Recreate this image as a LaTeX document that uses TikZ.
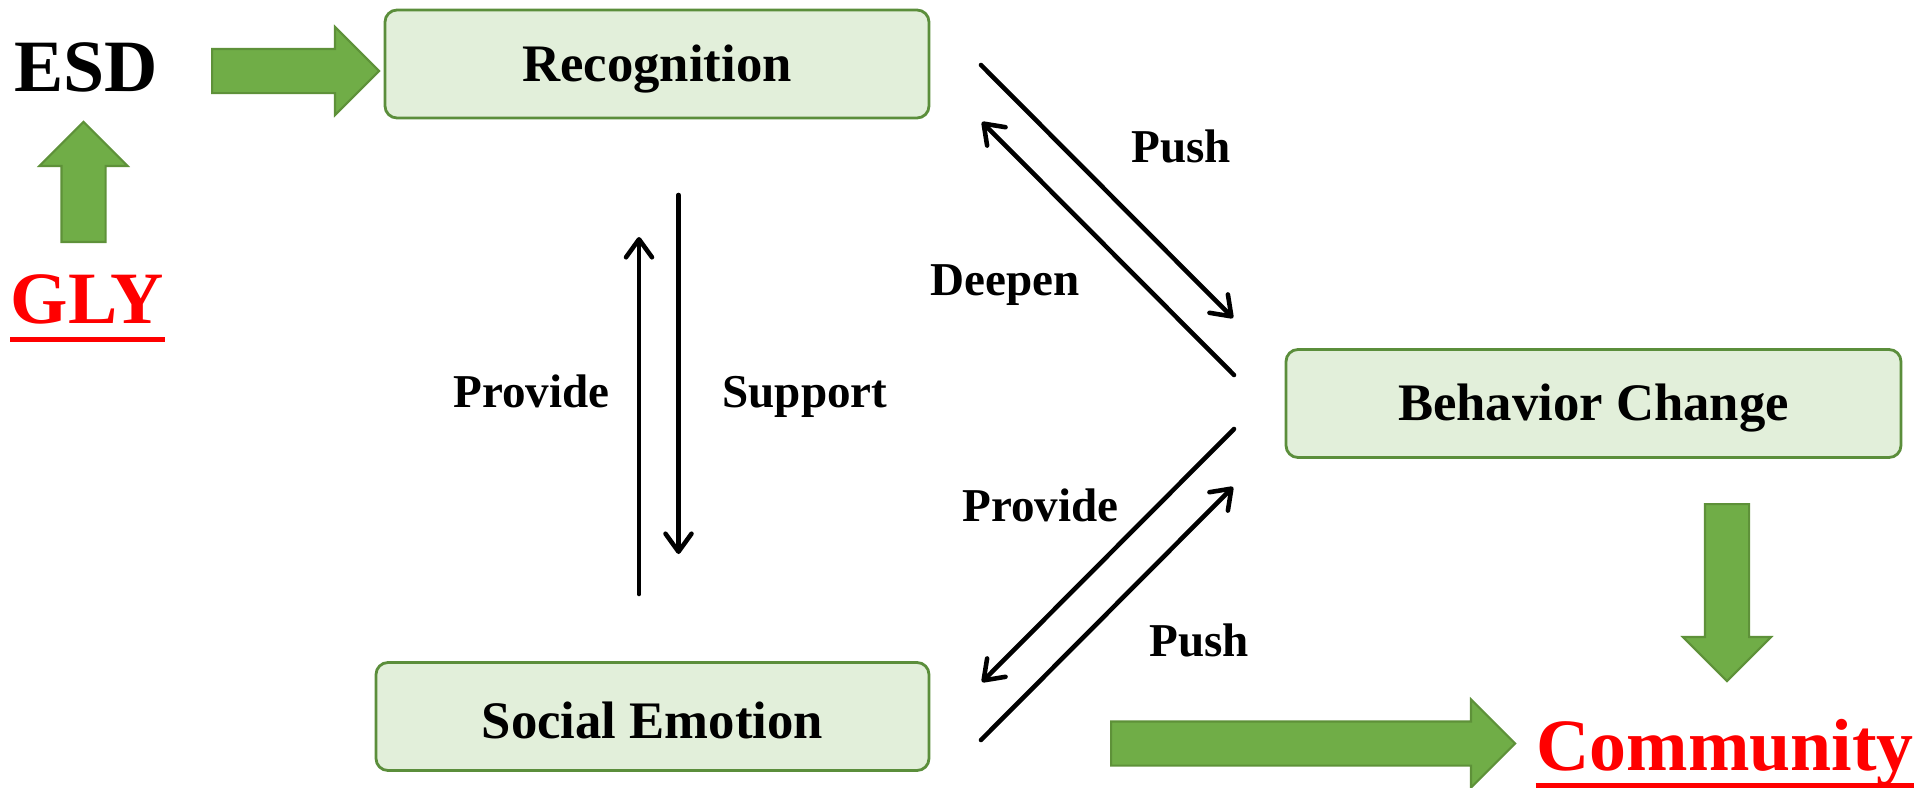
\documentclass[tikz,border=0pt]{standalone}
\usepackage{fontspec}
\setmainfont{Liberation Serif}
\usetikzlibrary{shapes.arrows,arrows.meta}
\definecolor{boxfill}{HTML}{E2EFDA}
\definecolor{boxline}{HTML}{5B8E3B}
\definecolor{arrgreen}{HTML}{70AD47}
\definecolor{arrline}{HTML}{5E9139}
\tikzset{
  box/.style={draw=boxline, fill=boxfill, line width=0.8pt, rounded corners=1.2mm,
    minimum height=1.08cm, font=\fontsize{15}{18}\selectfont\bfseries,
    text height=9.9pt, text depth=0pt},
  lbl/.style={font=\fontsize{13.4}{16}\selectfont\bfseries, inner sep=0pt, anchor=base},
  bigtxt/.style={font=\fontsize{21}{25}\selectfont\bfseries, inner sep=0pt, anchor=base},
  blockarrow/.style={single arrow, fill=arrgreen, draw=arrline, line width=0.6pt,
    inner xsep=0pt, inner ysep=2.1mm, single arrow head extend=2.2mm, anchor=tail},
  rel/.style={line width=1.3pt, line cap=round,
    -{Straight Barb[length=1.8mm,width=2.6mm,round]}},
  uline/.style={red, line width=1.4pt}
}
\begin{document}
\begin{tikzpicture}[x=0.1mm,y=-0.1mm]
  \useasboundingbox (0,0) rectangle (1920,787);
  % boxes
  \node[box, minimum width=5.44cm] (rec) at (657,64) {Recognition};
  \node[box, minimum width=6.15cm] (beh) at (1593.5,403.5) {Behavior Change};
  \node[box, minimum width=5.53cm, text height=12.7pt] (soc) at (652.5,716.5) {Social Emotion};
  % outer words
  \node[bigtxt] (esd) at (86.5,91) {ESD};
  \node[bigtxt, red] (gly) at (87.5,323) {GLY};
  \node[bigtxt, red] (comm) at (1725,770) {Community};
  \draw[uline] ([yshift=-1.65mm]gly.base west) -- ([yshift=-1.65mm]gly.base east);
  \draw[uline] ([yshift=-1.55mm]comm.base west) -- ([yshift=-1.55mm]comm.base east);
  % green arrows
  \node[blockarrow, minimum height=1.67cm] (esdrec) at (211,71) {};
  \node[blockarrow, minimum height=1.20cm, rotate=90] (glyesd) at (83.5,243) {};
  \node[blockarrow, minimum height=1.77cm, rotate=-90] (behcomm) at (1727,503) {};
  \node[blockarrow, minimum height=4.04cm] (soccomm) at (1110,743.5) {};
  % ends of the thin arrows
  \coordinate (provA) at (639,594);   \coordinate (provB) at (639,237);
  \coordinate (suppA) at (678.5,195); \coordinate (suppB) at (678.5,554);
  \coordinate (pushA) at (981,65);    \coordinate (pushB) at (1233,318);
  \coordinate (deepA) at (1234,375);  \coordinate (deepB) at (982,122);
  \coordinate (provC) at (1234,429);  \coordinate (provD) at (982,682);
  \coordinate (pushC) at (981,740);   \coordinate (pushD) at (1233,487);
  \draw[rel] (provA) -- (provB);
  \draw[rel] (suppA) -- (suppB);
  \draw[rel] (pushA) -- (pushB);
  \draw[rel] (deepA) -- (deepB);
  \draw[rel] (provC) -- (provD);
  \draw[rel] (pushC) -- (pushD);
  % labels
  \node[lbl] (lpush) at (1181,162) {Push};
  \node[lbl] (ldeep) at (1005.5,295) {Deepen};
  \node[lbl] (lprov) at (531.5,407) {Provide};
  \node[lbl] (lsupp) at (805,407) {Support};
  \node[lbl] (lprov2) at (1040.5,521) {Provide};
  \node[lbl] (lpush2) at (1199,656) {Push};
\end{tikzpicture}
\end{document}
